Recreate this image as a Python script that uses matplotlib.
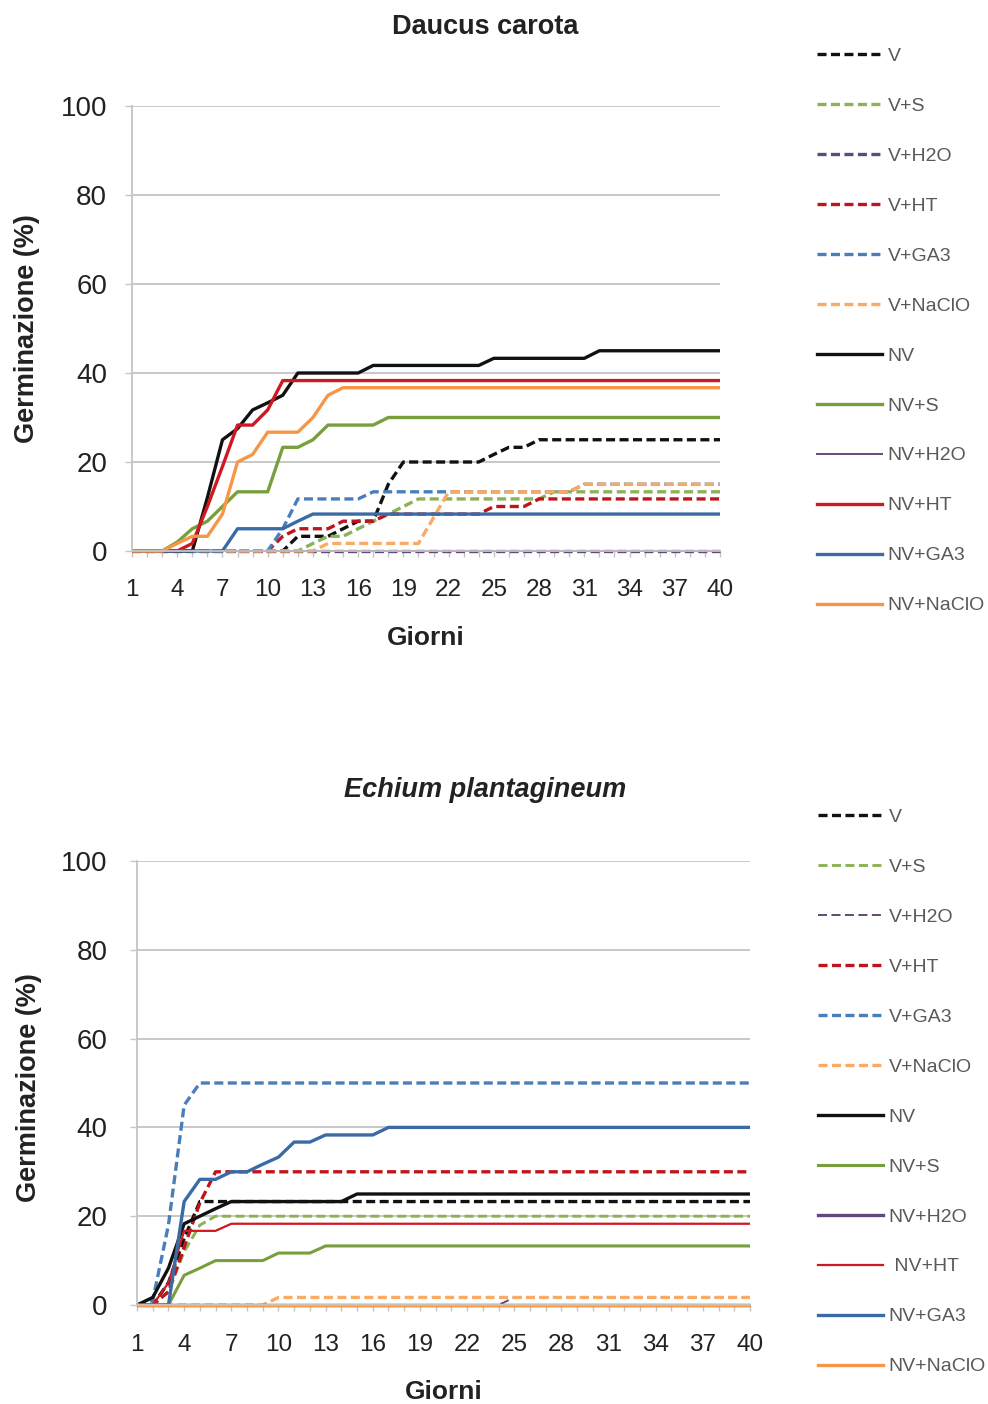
import matplotlib
matplotlib.use('Agg')
import matplotlib.pyplot as plt
from matplotlib.lines import Line2D

plt.rcParams['font.family'] = ['Liberation Sans', 'DejaVu Sans']
plt.rcParams['lines.scale_dashes'] = False

# ---------------- data ----------------
days = list(range(1, 41))
xtick_days = list(range(1, 41, 3))
yticks = [0, 20, 40, 60, 80, 100]

series_names = ['V', 'V+S', 'V+H2O', 'V+HT', 'V+GA3', 'V+NaClO',
                'NV', 'NV+S', 'NV+H2O', 'NV+HT', 'NV+GA3', 'NV+NaClO']
legend_labels_top = series_names
legend_labels_bottom = ['V', 'V+S', 'V+H2O', 'V+HT', 'V+GA3', 'V+NaClO',
                        'NV', 'NV+S', 'NV+H2O', ' NV+HT', 'NV+GA3', 'NV+NaClO']

# Daucus carota
dc_V = [0]*11 + [3.3, 3.3, 3.3, 5, 6.7, 6.7, 15, 20, 20, 20, 20, 20, 20, 21.7, 23.3, 23.3] + [25]*13
dc_VS = [0]*12 + [1.7, 3.3, 3.3, 5, 6.7, 8.3, 10] + [11.7]*9 + [13.3]*12
dc_VH2O = [0]*40
dc_VHT = [0]*10 + [3.3, 5, 5, 5, 6.7, 6.7, 6.7] + [8.3]*7 + [10, 10, 10] + [11.7]*13
dc_VGA3 = [0]*10 + [5] + [11.7]*5 + [13.3]*14 + [15]*10
dc_VNaClO = [0]*13 + [1.7]*7 + [7.5] + [13.3]*9 + [15]*10
dc_NV = [0, 0, 0, 0, 0, 12, 25, 27.5, 31.7, 33.3, 35] + [40]*5 + [41.7]*8 + [43.3]*7 + [45]*9
dc_NVS = [0, 0, 0, 2, 5, 6.7, 10, 13.3, 13.3, 13.3, 23.3, 23.3, 25, 28.3, 28.3, 28.3, 28.3] + [30]*23
dc_NVH2O = [0]*40
dc_NVHT = [0, 0, 0, 0, 1.7, 10, 19, 28.3, 28.3, 31.7] + [38.3]*30
dc_NVGA3 = [0]*7 + [5, 5, 5, 5, 6.7] + [8.3]*28
dc_NVNaClO = [0, 0, 0, 1.7, 3.3, 3.3, 8.3, 20, 21.7, 26.7, 26.7, 26.7, 30, 35] + [36.7]*26

# Echium plantagineum
ep_V = [0, 0, 5, 15] + [23.3]*36
ep_VS = [0, 0, 3, 12, 18] + [20]*35
ep_VH2O = [0]*24 + [1.7]*16
ep_VHT = [0, 0, 3, 13, 23] + [30]*35
ep_VGA3 = [0, 1, 18, 45] + [50]*36
ep_VNaClO = [0]*9 + [1.7]*31
ep_NV = [0, 1.7, 8.3, 18.3, 20, 21.7] + [23.3]*8 + [25]*26
ep_NVS = [0, 0, 0, 6.7, 8.3, 10, 10, 10, 10, 11.7, 11.7, 11.7] + [13.3]*28
ep_NVH2O = [0]*40
ep_NVHT = [0, 0, 5, 16.7, 16.7, 16.7] + [18.3]*34
ep_NVGA3 = [0, 0, 0, 23.3, 28.3, 28.3, 30, 30, 31.7, 33.3, 36.7, 36.7, 38.3, 38.3, 38.3, 38.3] + [40]*24
ep_NVNaClO = [0]*40

dc_data = [dc_V, dc_VS, dc_VH2O, dc_VHT, dc_VGA3, dc_VNaClO,
           dc_NV, dc_NVS, dc_NVH2O, dc_NVHT, dc_NVGA3, dc_NVNaClO]
ep_data = [ep_V, ep_VS, ep_VH2O, ep_VHT, ep_VGA3, ep_VNaClO,
           ep_NV, ep_NVS, ep_NVH2O, ep_NVHT, ep_NVGA3, ep_NVNaClO]

# ---------------- styles ----------------
colors = ['#111111', '#8DB255', '#604A7B', '#C0141C', '#4A7EBB', '#FBAA64',
          '#111111', '#77A03C', '#604A7B', '#D01820', '#3A6BA5', '#F79646']
dashed = [True]*6 + [False]*6
lw_top = [2.4, 2.4, 2.4, 2.4, 2.4, 2.4, 2.4, 2.4, 1.4, 2.4, 2.4, 2.4]
lw_bot = [2.4, 2.1, 1.4, 2.4, 2.4, 2.4, 2.4, 2.2, 2.4, 1.6, 2.4, 2.4]
DASH = (6.5, 3.2)

W, H = 988, 1404
fig = plt.figure(figsize=(W/100, H/100), dpi=100)
fig.patch.set_facecolor('white')

GRID = '#C4C4C4'
TXT = '#222222'


def make_axes(rect, data, lws, ypad, xpad):
    ax = fig.add_axes(rect)
    for vals, c, d, lw in zip(data, colors, dashed, lws):
        ln, = ax.plot(days, vals, color=c, lw=lw, clip_on=False,
                      solid_joinstyle='round', solid_capstyle='butt')
        if d:
            ln.set_dashes(DASH)
    ax.set_xlim(1, 40)
    ax.set_ylim(0, 100)
    ax.set_yticks(yticks)
    ax.set_xticks(days)
    ax.set_xticklabels([str(d) if d in xtick_days else '' for d in days])
    ax.yaxis.grid(True, color=GRID, lw=1.3)
    ax.set_axisbelow(True)
    for s in ['top', 'right']:
        ax.spines[s].set_visible(False)
    for s in ['left', 'bottom']:
        ax.spines[s].set_color(GRID)
        ax.spines[s].set_linewidth(1.3)
    ax.tick_params(axis='x', length=4, width=1, color=GRID, pad=xpad,
                   labelsize=17.5, labelcolor=TXT)
    ax.tick_params(axis='y', length=5, width=1, color=GRID, pad=ypad,
                   labelsize=20, labelcolor=TXT)
    return ax


def add_legend(labels, lws, x0, ytop):
    handles = []
    for c, d, lw in zip(colors, dashed, lws):
        h = Line2D([0], [0], color=c, lw=lw)
        if d:
            h.set_dashes(DASH)
        handles.append(h)
    fig.legend(handles, labels, loc='upper left',
               bbox_to_anchor=(x0/W, 1 - ytop/H), frameon=False,
               fontsize=14, labelcolor='#595959', handlelength=3.35,
               handletextpad=0.28, labelspacing=1.665, borderpad=0,
               borderaxespad=0)


# top chart
ax1 = make_axes([132/W, 1 - 551/H, 588/W, 445/H], dc_data, lw_top, ypad=13, xpad=16)
ax1.set_ylabel('Germinazione (%)', fontsize=19.5, fontweight='bold', color=TXT)
ax1.yaxis.set_label_coords(-0.157, 0.5)
ax1.set_xlabel('Giorni', fontsize=19, fontweight='bold', color=TXT)
ax1.xaxis.set_label_coords(0.5, -0.168)
fig.text(485/W, 1 - 27/H, 'Daucus carota', ha='center', va='center',
         fontsize=19.5, fontweight='bold', color=TXT)
add_legend(legend_labels_top, lw_top, 817, 47)

# bottom chart
ax2 = make_axes([137/W, 1 - 1305/H, 613/W, 444/H], ep_data, lw_bot, ypad=16, xpad=17)
ax2.set_ylabel('Germinazione (%)', fontsize=19.5, fontweight='bold', color=TXT)
ax2.yaxis.set_label_coords(-0.155, 0.49)
ax2.set_xlabel('Giorni', fontsize=19, fontweight='bold', color=TXT)
ax2.xaxis.set_label_coords(0.5, -0.168)
fig.text(485/W, 1 - 790/H, 'Echium plantagineum', ha='center', va='center',
         fontsize=19.5, fontweight='bold', fontstyle='italic', color=TXT)
add_legend(legend_labels_bottom, lw_bot, 818, 808)

fig.savefig('out.png', dpi=100, facecolor='white')
